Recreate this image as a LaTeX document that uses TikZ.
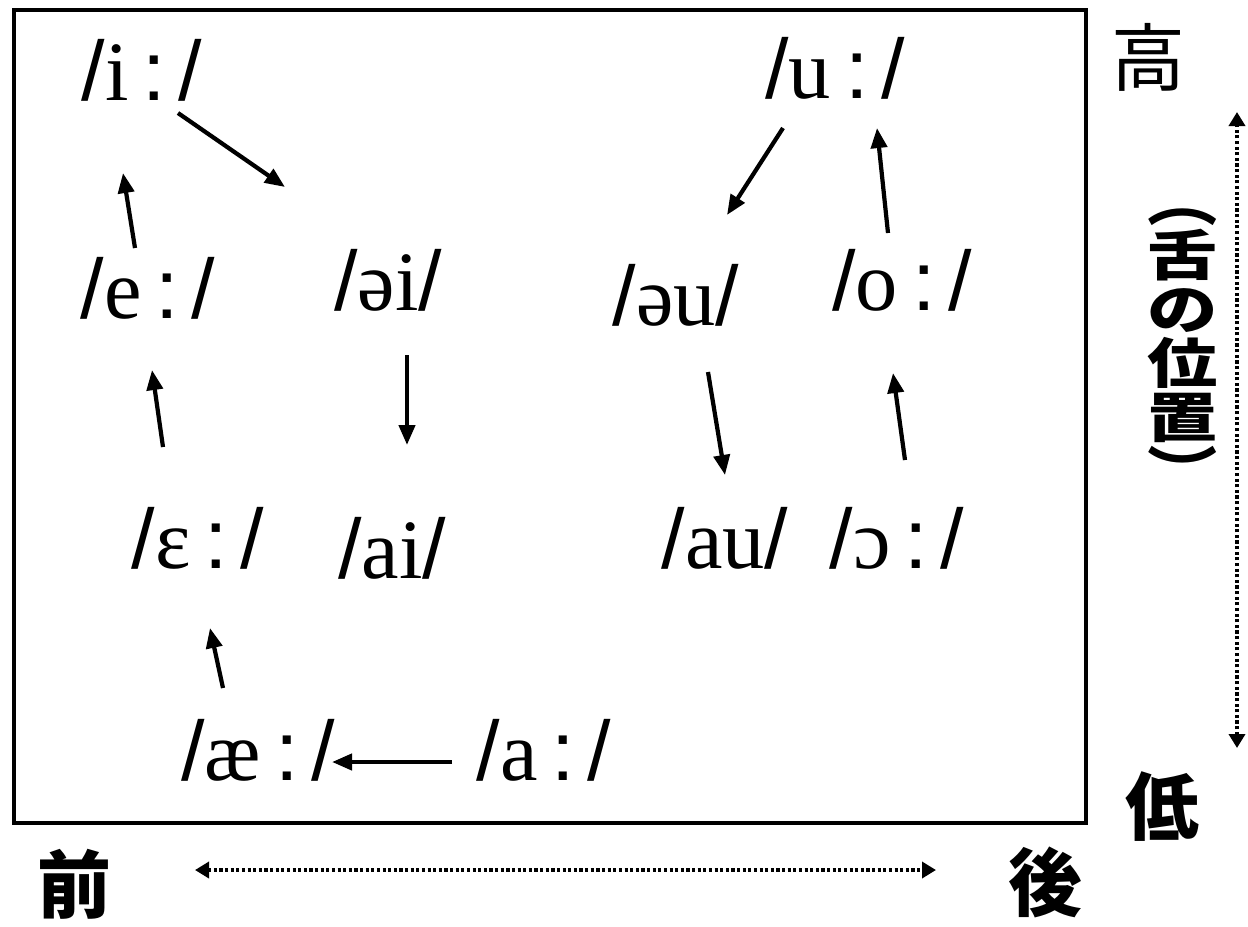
\documentclass[tikz,border=0pt]{standalone}
\usepackage{fontspec}
\setmainfont{Liberation Serif}
\newfontfamily\slfont{Liberation Sans}
\newfontfamily\jpfont{Noto Sans CJK JP}
\usetikzlibrary{arrows.meta}
\newcommand\ipa[1]{{\slfont/}#1{\slfont/}}
\newcommand\ipal[1]{{\slfont/}#1\kern0.17em{\slfont:}\kern0.15em{\slfont/}}
\tikzset{
  vowel/.style={font=\fontsize{24}{28}\selectfont, inner sep=0pt, anchor=base},
  arr/.style={line width=1.2pt, -{Triangle[length=0.2cm,width=0.16cm]}},
  axis/.style={line width=1pt, dash pattern=on 0.9pt off 0.7pt, {Triangle[length=0.14cm,width=0.16cm]}-{Triangle[length=0.14cm,width=0.16cm]}},
  kanji/.style={font=\jpfont\bfseries\fontsize{21}{21}\selectfont, inner sep=0pt}
}
\begin{document}
\begin{tikzpicture}[x=0.01cm, y=-0.01cm]
\useasboundingbox (0,0) rectangle (1248,926);
\draw[line width=0.04cm] (14,10) rectangle (1086,823);
\node[vowel] (i) at (142,100) {\ipal{i}};
\node[vowel] (u) at (835,98) {\ipal{u}};
\node[vowel] (e) at (148,318) {\ipal{e}};
\node[vowel] (ei) at (388,310) {\ipa{əi}};
\node[vowel] (eu) at (676,325) {\ipa{əu}};
\node[vowel] (o) at (902,310) {\ipal{o}};
\node[vowel] (eh) at (198,568) {\ipal{ɛ}};
\node[vowel] (ai) at (392,578) {\ipa{ai}};
\node[vowel] (au) at (725,568) {\ipa{au}};
\node[vowel] (oh) at (897,568) {\ipal{ɔ}};
\node[vowel] (ae) at (258,780) {\ipal{æ}};
\node[vowel] (a) at (544,780) {\ipal{a}};
\draw[arr] (i.base) ++(36,13) -- ++(107,74);
\draw[arr] (e.base) ++(-13,-70) -- ++(-12,-75);
\draw[arr] (ei.base) ++(19,45) -- ++(0,90);
\draw[arr] (u.base) ++(-52,30) -- ++(-56,87);
\draw[arr] (o.base) ++(-14,-77) -- ++(-11,-105);
\draw[arr] (eu.base) ++(32,47) -- ++(17,103);
\draw[arr] (oh.base) ++(8,-108) -- ++(-12,-87);
\draw[arr] (ae.base) ++(-35,-92) -- ++(-13,-60);
\draw[arr] (eh.base) ++(-35,-121) -- ++(-11,-77);
\draw[arr] (a.base) ++(-92,-18) -- ++(-120,0);
\node[kanji] (high) at (1148,57) {\mdseries 高};
\node[kanji] (low) at (1162,807) {低};
\node[kanji] (front) at (74,884) {前};
\node[kanji] (back) at (1045,882) {後};
\node[inner sep=0pt] (tongue) at (1183,336) {\scalebox{1}[0.77]{\parbox{22pt}{\centering
  \jpfont\bfseries\fontsize{20}{20}\selectfont\lineskiplimit=-20pt
  \vphantom{舌}︵\\舌\\の\\位\\置\\︶\vphantom{舌}}}};
\coordinate (top) at (1237,112);
\coordinate (bottom) at (1237,748);
\coordinate (left) at (195,870);
\coordinate (right) at (936,870);
\draw[axis] (bottom) -- (top);
\draw[axis] (left) -- (right);
\end{tikzpicture}
\end{document}
